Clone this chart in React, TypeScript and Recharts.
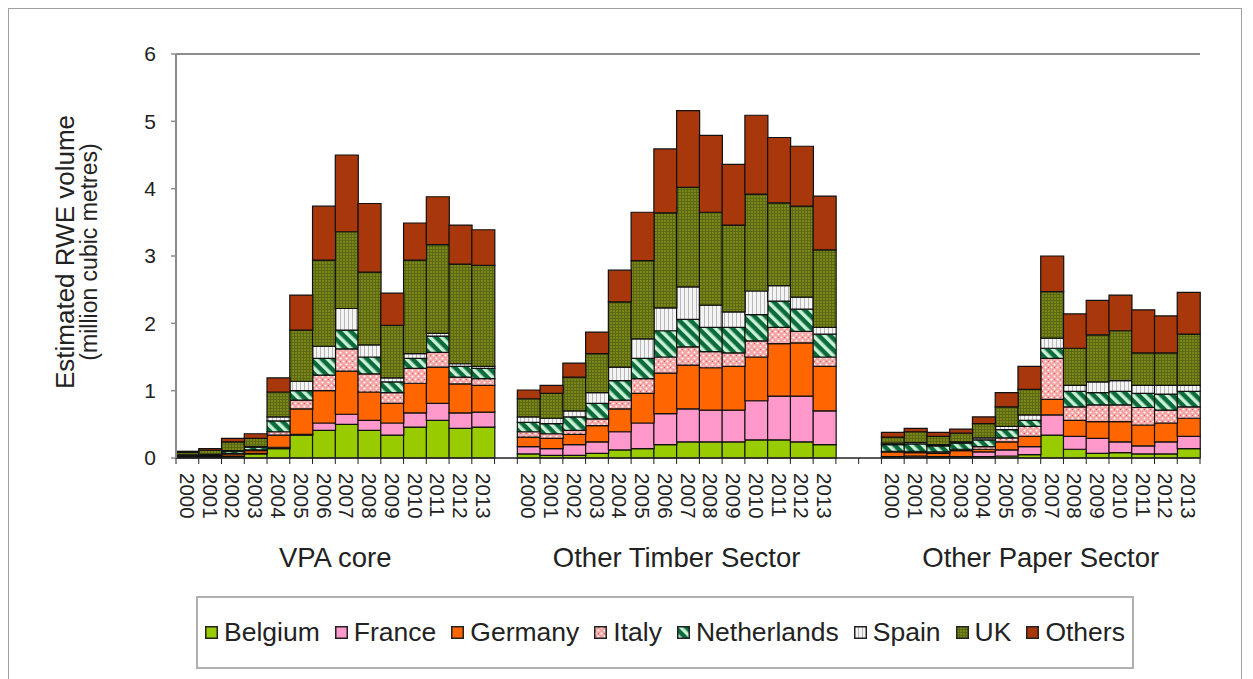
import React from "react";
import { BarChart, Bar, XAxis, YAxis, ReferenceLine } from "recharts";

const years = ["2000", "2001", "2002", "2003", "2004", "2005", "2006", "2007", "2008", "2009", "2010", "2011", "2012", "2013"];
const sectors = ["VPA core", "Other Timber Sector", "Other Paper Sector"];
const yTicks = [0, 1, 2, 3, 4, 5, 6];

// 14 values per sector, in order: VPA core, Other Timber Sector, Other Paper Sector
const belgium = [
  0.01, 0.01, 0.02, 0.06, 0.14, 0.34, 0.41, 0.5, 0.41, 0.34, 0.46, 0.56, 0.44, 0.46,
  0.06, 0.04, 0.04, 0.07, 0.12, 0.14, 0.2, 0.24, 0.24, 0.24, 0.27, 0.27, 0.24, 0.2,
  0.01, 0.01, 0.01, 0.01, 0.02, 0.03, 0.05, 0.34, 0.13, 0.07, 0.08, 0.06, 0.06, 0.14,
];
const france = [
  0.005, 0.005, 0.01, 0.01, 0.02, 0.01, 0.11, 0.15, 0.15, 0.18, 0.21, 0.25, 0.23, 0.22,
  0.11, 0.1, 0.16, 0.17, 0.27, 0.38, 0.46, 0.49, 0.47, 0.47, 0.58, 0.65, 0.68, 0.5,
  0.01, 0.02, 0.01, 0.01, 0.07, 0.09, 0.12, 0.3, 0.19, 0.22, 0.16, 0.12, 0.18, 0.18,
];
const germany = [
  0.01, 0.015, 0.03, 0.04, 0.18, 0.38, 0.48, 0.64, 0.42, 0.29, 0.44, 0.54, 0.43, 0.4,
  0.14, 0.15, 0.15, 0.24, 0.34, 0.44, 0.6, 0.65, 0.63, 0.65, 0.65, 0.78, 0.79, 0.66,
  0.07, 0.05, 0.05, 0.09, 0.04, 0.12, 0.15, 0.23, 0.24, 0.25, 0.3, 0.31, 0.28, 0.27,
];
const italy = [
  0.005, 0.005, 0.01, 0.01, 0.05, 0.13, 0.23, 0.33, 0.27, 0.16, 0.22, 0.22, 0.1, 0.1,
  0.08, 0.07, 0.06, 0.1, 0.13, 0.22, 0.24, 0.27, 0.24, 0.2, 0.24, 0.24, 0.17, 0.14,
  0.01, 0.02, 0.02, 0.02, 0.04, 0.06, 0.15, 0.61, 0.2, 0.25, 0.25, 0.26, 0.19, 0.17,
];
const netherlands = [
  0.01, 0.015, 0.03, 0.04, 0.16, 0.14, 0.25, 0.28, 0.25, 0.16, 0.15, 0.24, 0.16, 0.15,
  0.14, 0.15, 0.2, 0.23, 0.29, 0.3, 0.39, 0.41, 0.36, 0.38, 0.39, 0.39, 0.33, 0.34,
  0.1, 0.11, 0.09, 0.09, 0.1, 0.12, 0.09, 0.15, 0.23, 0.18, 0.2, 0.21, 0.24, 0.23,
];
const spain = [
  0.005, 0.005, 0.01, 0.01, 0.06, 0.14, 0.18, 0.32, 0.18, 0.06, 0.07, 0.04, 0.04, 0.03,
  0.08, 0.08, 0.09, 0.16, 0.2, 0.29, 0.34, 0.48, 0.33, 0.23, 0.35, 0.23, 0.18, 0.1,
  0.02, 0.02, 0.02, 0.02, 0.03, 0.05, 0.08, 0.15, 0.09, 0.16, 0.16, 0.12, 0.13, 0.09,
];
const uk = [
  0.04, 0.06, 0.13, 0.12, 0.37, 0.76, 1.28, 1.14, 1.08, 0.78, 1.39, 1.32, 1.48, 1.5,
  0.27, 0.37, 0.5, 0.58, 0.97, 1.16, 1.41, 1.48, 1.38, 1.29, 1.44, 1.23, 1.35, 1.15,
  0.09, 0.16, 0.12, 0.13, 0.21, 0.29, 0.38, 0.69, 0.55, 0.7, 0.74, 0.48, 0.48, 0.76,
];
const others = [
  0.015, 0.025, 0.05, 0.07, 0.21, 0.52, 0.8, 1.14, 1.02, 0.48, 0.55, 0.71, 0.58, 0.53,
  0.13, 0.12, 0.21, 0.32, 0.47, 0.72, 0.95, 1.14, 1.14, 0.9, 1.17, 0.97, 0.89, 0.8,
  0.07, 0.05, 0.06, 0.06, 0.1, 0.21, 0.34, 0.53, 0.51, 0.51, 0.53, 0.64, 0.55, 0.62,
];

const series = [
  { name: "Belgium", values: belgium, fill: "#99cc00" },
  { name: "France", values: france, fill: "#ff99cc" },
  { name: "Germany", values: germany, fill: "#ff6600" },
  { name: "Italy", values: italy, fill: "url(#pItaly)" },
  { name: "Netherlands", values: netherlands, fill: "url(#pNeth)" },
  { name: "Spain", values: spain, fill: "url(#pSpain)" },
  { name: "UK", values: uk, fill: "url(#pUK)" },
  { name: "Others", values: others, fill: "#a8380c" },
];

// empty slots after each sector
const gapsAfter = [1, 2, 0];

type Row = { [k: string]: string | number | undefined };
const rows: Row[] = [];
sectors.forEach((sector, si) => {
  years.forEach((year, yi) => {
    const row: Row = { id: `${si}-${year}`, year, sector: yi === 7 ? sector : "" };
    series.forEach((s) => (row[s.name] = s.values[si * years.length + yi]));
    rows.push(row);
  });
  for (let g = 0; g < gapsAfter[si]; g++) rows.push({ id: `gap-${si}-${g}`, year: "", sector: "" });
});

const W = 1253;
const H = 679;
const LEFT = 176;
const RIGHT = 1200;
const BOTTOM = 458;
const SLOT = (RIGHT - LEFT) / rows.length;
const FONT = "'Liberation Sans', Arial, sans-serif";

function CategoryTick(props: any) {
  const { x, payload, index } = props;
  const row = rows.find((r) => r.id === payload.value) || rows[index];
  const last = index === rows.length - 1;
  return (
    <g>
      <line x1={x - SLOT / 2} x2={x - SLOT / 2} y1={BOTTOM} y2={BOTTOM + 6} stroke="#222" />
      {last && <line x1={x + SLOT / 2} x2={x + SLOT / 2} y1={BOTTOM} y2={BOTTOM + 6} stroke="#222" />}
      {row && row.year ? (
        <text
          transform={`translate(${x},${BOTTOM + 15}) rotate(90)`}
          dy="0.36em"
          textAnchor="start"
          fontSize={20.5}
          fontFamily={FONT}
          fill="#222"
        >
          {row.year}
        </text>
      ) : null}
      {row && row.sector ? (
        <text x={x - SLOT / 2} y={567} textAnchor="middle" fontSize={27.5} fontFamily={FONT} fill="#222">
          {row.sector}
        </text>
      ) : null}
    </g>
  );
}

function YTitle(props: any) {
  const vb = props.viewBox || { y: 54, height: 404 };
  const cy = vb.y + vb.height / 2 - 4;
  return (
    <g fontFamily={FONT} fill="#222" textAnchor="middle">
      <text transform={`translate(74,${cy}) rotate(-90)`} fontSize={26}>
        Estimated RWE volume
      </text>
      <text transform={`translate(97,${cy}) rotate(-90)`} fontSize={23}>
        (million cubic metres)
      </text>
    </g>
  );
}

function Patterns() {
  return (
    <defs>
      <pattern id="pItaly" width="6" height="6" patternUnits="userSpaceOnUse">
        <rect width="6" height="6" fill="#f5a3a3" />
        <circle cx="1.5" cy="1.5" r="1.1" fill="#ffffff" />
        <circle cx="4.5" cy="4.5" r="1.1" fill="#ffffff" />
        <circle cx="4.5" cy="1.5" r="0.6" fill="#d84b4b" />
      </pattern>
      <pattern id="pNeth" width="8" height="8" patternUnits="userSpaceOnUse" patternTransform="rotate(-45)">
        <rect width="8" height="8" fill="#0b6b3a" />
        <rect width="3.5" height="8" fill="#c9f1d6" />
      </pattern>
      <pattern id="pSpain" width="4" height="4" patternUnits="userSpaceOnUse">
        <rect width="4" height="4" fill="#f4f4f4" />
        <rect width="1" height="4" fill="#b8b8b8" />
      </pattern>
      <pattern id="pUK" width="3" height="3" patternUnits="userSpaceOnUse">
        <rect width="3" height="3" fill="#7a861a" />
        <rect width="1" height="3" fill="#5b6912" />
        <rect width="3" height="1" fill="#5b6912" />
      </pattern>
    </defs>
  );
}

function LegendBox() {
  return (
    <div
      style={{
        position: "absolute",
        left: 196,
        top: 596,
        width: 934,
        height: 69,
        border: "2px solid #b0b0b0",
        display: "flex",
        alignItems: "center",
        justifyContent: "center",
        fontFamily: FONT,
        fontSize: 26.5,
        color: "#222",
      }}
    >
      <svg width={0} height={0} style={{ position: "absolute" }}>
        <Patterns />
      </svg>
      {series.map((s, i) => (
        <div key={s.name} style={{ display: "flex", alignItems: "center", marginLeft: i === 0 ? 0 : 15 }}>
          <svg width={13} height={13} style={{ marginRight: 6 }}>
            <rect x={0.75} y={0.75} width={11.5} height={11.5} fill={s.fill} stroke="#222" strokeWidth={1.5} />
          </svg>
          <span>{s.name}</span>
        </div>
      ))}
    </div>
  );
}

export default function App() {
  return (
    <div style={{ position: "absolute", left: 0, top: 0, width: W, height: H, background: "#fff", overflow: "hidden" }}>
      <div style={{ position: "absolute", left: 8, top: 8, width: 1232, height: 700, border: "1px solid #a0a0a0" }} />
      <div style={{ position: "absolute", left: 0, top: 0 }}>
        <BarChart
          width={W}
          height={H}
          data={rows}
          margin={{ top: 54, right: W - RIGHT, left: LEFT - 60, bottom: H - BOTTOM - 80 }}
          barCategoryGap={0}
          barGap={0}
        >
          <Patterns />
          <XAxis
            dataKey="id"
            height={80}
            interval={0}
            tickLine={false}
            axisLine={{ stroke: "#222", strokeWidth: 1.5 }}
            tick={<CategoryTick />}
          />
          <YAxis
            width={60}
            domain={[0, 6]}
            ticks={yTicks}
            interval={0}
            tickSize={5}
            tickMargin={15}
            axisLine={{ stroke: "#8c8c8c", strokeWidth: 2 }}
            tickLine={{ stroke: "#8c8c8c", strokeWidth: 1.5 }}
            tick={{ fontSize: 21, fontFamily: FONT, fill: "#222" }}
            label={{ content: <YTitle /> }}
          />
          <YAxis
            yAxisId="right"
            orientation="right"
            width={0}
            domain={[0, 6]}
            tick={false}
            tickLine={false}
            axisLine={{ stroke: "#8c8c8c", strokeWidth: 2 }}
          />
          <ReferenceLine y={6} stroke="#8c8c8c" strokeWidth={2} />
          {series.map((s) => (
            <Bar
              key={s.name}
              dataKey={s.name}
              stackId="a"
              fill={s.fill}
              stroke="#111"
              strokeWidth={1.2}
              isAnimationActive={false}
            />
          ))}
        </BarChart>
      </div>
      <LegendBox />
    </div>
  );
}
